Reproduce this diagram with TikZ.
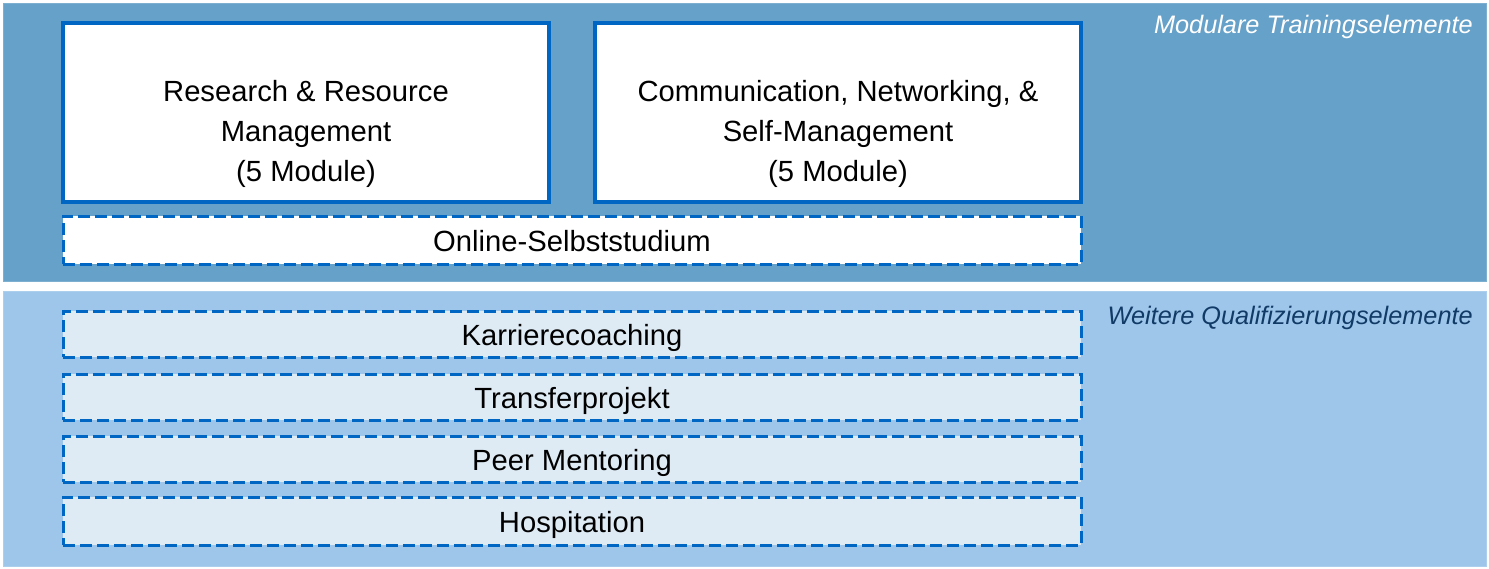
\documentclass[tikz,border=0pt]{standalone}
\usepackage{fontspec}
\setmainfont{Liberation Sans}
\definecolor{bandtop}{HTML}{66A1C9}
\definecolor{bandbot}{HTML}{9DC6EA}
\definecolor{boxblue}{HTML}{0066C4}
\definecolor{lightfill}{HTML}{DEEBF5}
\definecolor{navy}{HTML}{123A66}
\begin{document}
\begin{tikzpicture}[x=1pt,y=-1pt,
  band/.style={draw=#1!85!white,line width=1pt},
  mainbox/.style={draw=boxblue,line width=4pt,fill=white,inner sep=0pt,
    minimum width=486pt,minimum height=179pt},
  boxtext/.style={align=center,font=\fontsize{29.2}{40}\selectfont,inner sep=0pt},
  dashbox/.style={draw=boxblue,line width=3pt,dash pattern=on 12pt off 5pt,
    font=\fontsize{29.2}{34}\selectfont,inner sep=0pt,
    text height=22pt,text depth=0pt,minimum width=1018pt},
  lbl/.style={font=\fontsize{25.3}{30}\selectfont\itshape,anchor=east,inner sep=0pt}]
\useasboundingbox (0,0) rectangle (1489,568);
\fill[white] (0,0) rectangle (1489,568);
% bands
\path[fill=bandtop,band=bandtop] (3,3) rectangle (1486,281);
\path[fill=bandbot,band=bandbot] (3,291) rectangle (1486,566);
\node[lbl,text=white] (lt) at (1473,27) {Modulare Trainingselemente};
\node[lbl,text=navy] (lb) at (1473,318) {Weitere Qualifizierungselemente};
% top boxes
\node[mainbox] (rr) at (306,112.5) {};
\node[boxtext] (rrt) at ([yshift=-21pt]rr.center)
  {Research \& Resource\\Management\\(5 Module)};
\node[mainbox] (cn) at (838,112.5) {};
\node[boxtext] (cnt) at ([yshift=-21pt]cn.center)
  {Communication, Networking, \&\\Self-Management\\(5 Module)};
\node[dashbox,fill=white,minimum height=48pt] (os) at (572,240)
  {Online-Selbststudium};
% bottom boxes
\node[dashbox,fill=lightfill,minimum height=46pt] (kc) at (572,334)
  {Karrierecoaching};
\node[dashbox,fill=lightfill,minimum height=46pt] (tp) at (572,397)
  {Transferprojekt};
\node[dashbox,fill=lightfill,minimum height=46pt] (pm) at (572,459)
  {Peer Mentoring};
\node[dashbox,fill=lightfill,minimum height=48pt] (hp) at (572,521)
  {Hospitation};
\end{tikzpicture}
\end{document}
